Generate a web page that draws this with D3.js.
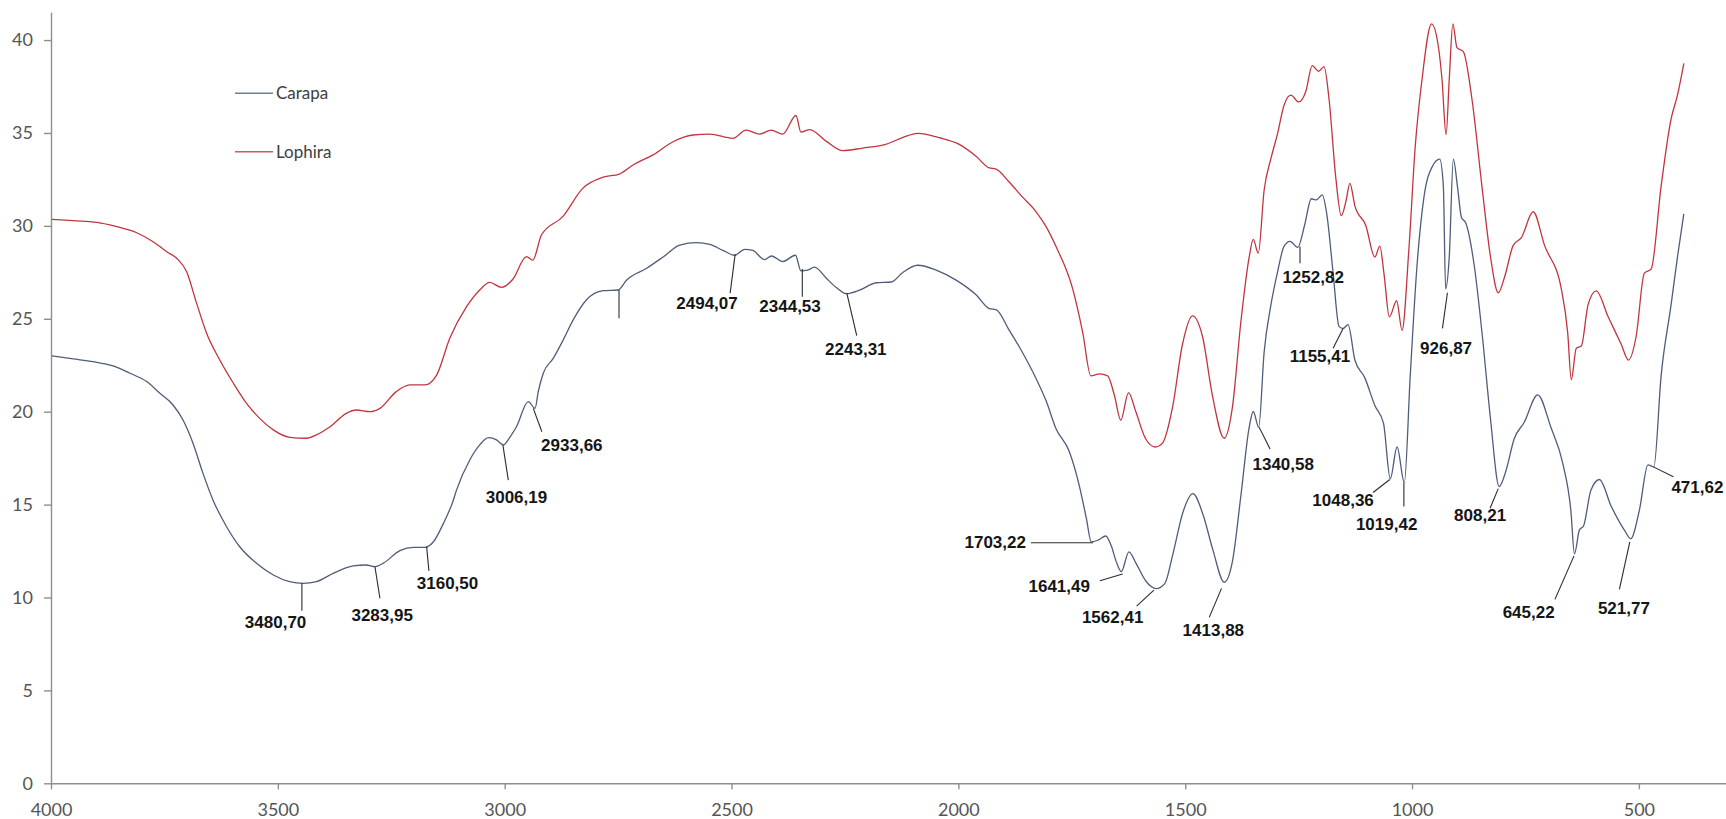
<!DOCTYPE html>
<html>
<head>
<meta charset="utf-8">
<script src="https://cdn.jsdelivr.net/npm/d3@7"></script>
<style>
  body { margin: 0; background: #fff; }
  svg { display: block; }
</style>
</head>
<body>
<svg id="chart"></svg>
<script>
// wavenumber (cm-1), value
const carapa = [
  [3998, 23.0], [3951, 22.84], [3907, 22.69], [3863, 22.46], [3826, 22.07], [3789, 21.62],
  [3760, 20.99], [3731, 20.36], [3709, 19.55], [3687, 18.3], [3665, 16.68], [3643, 15.25],
  [3613, 13.81], [3584, 12.73], [3547, 11.84], [3510, 11.21], [3474, 10.85], [3444, 10.76],
  [3415, 10.85], [3378, 11.3], [3334, 11.7], [3305, 11.75], [3286, 11.66], [3268, 11.84],
  [3231, 12.52], [3201, 12.7], [3176, 12.7], [3157, 13.0], [3135, 13.99], [3113, 15.25],
  [3106, 15.79], [3077, 17.4], [3055, 18.21], [3036, 18.6], [3018, 18.48], [3003, 18.21],
  [2988, 18.65], [2974, 19.19], [2948, 20.54], [2933, 20.18], [2926, 21.08], [2915, 22.07],
  [2893, 22.87], [2871, 23.86], [2849, 24.94], [2820, 26.01], [2783, 26.51], [2750, 26.55],
  [2731, 27.09], [2687, 27.72], [2650, 28.34], [2614, 28.97], [2577, 29.1], [2548, 29.0],
  [2519, 28.68], [2493, 28.42], [2471, 28.74], [2453, 28.68], [2427, 28.18], [2412, 28.38],
  [2387, 28.08], [2359, 28.42], [2347, 27.58], [2332, 27.62], [2317, 27.78], [2291, 27.18],
  [2269, 26.68], [2247, 26.35], [2218, 26.54], [2181, 26.94], [2148, 26.98], [2123, 27.48],
  [2090, 27.88], [2049, 27.62], [2005, 27.08], [1961, 26.29], [1932, 25.55], [1917, 25.49],
  [1888, 24.39], [1859, 23.2], [1829, 21.8], [1807, 20.61], [1785, 19.1], [1756, 17.88],
  [1733, 15.97], [1718, 14.27], [1707, 12.99], [1692, 13.09], [1675, 13.31], [1663, 12.78],
  [1652, 11.93], [1641, 11.39], [1624, 12.46], [1608, 11.82], [1586, 10.86], [1564, 10.48],
  [1545, 10.75], [1527, 12.35], [1505, 14.59], [1483, 15.59], [1461, 14.48], [1439, 12.56],
  [1414, 10.82], [1396, 11.93], [1377, 15.54], [1359, 19.16], [1350, 20.01], [1338, 19.16],
  [1326, 23.21], [1311, 25.76], [1297, 27.46], [1282, 28.91], [1269, 29.17], [1252, 28.84],
  [1237, 30.02], [1222, 31.46], [1211, 31.4], [1198, 31.67], [1188, 30.65], [1174, 27.46],
  [1161, 24.59], [1152, 24.48], [1141, 24.69], [1126, 22.78], [1104, 21.82], [1082, 20.33],
  [1063, 19.38], [1048, 16.39], [1033, 18.1], [1017, 16.18], [1004, 21.93], [989, 27.88],
  [974, 31.51], [955, 33.21], [939, 33.59], [931, 32.14], [926, 26.61], [918, 28.32],
  [909, 33.59], [900, 32.14], [891, 30.44], [882, 30.18], [863, 27.88], [845, 24.06],
  [827, 19.59], [808, 15.97], [793, 16.82], [775, 18.53], [753, 19.42], [723, 20.91],
  [694, 19.16], [668, 17.24], [650, 14.69], [642, 12.35], [631, 13.64], [622, 13.85],
  [606, 15.76], [587, 16.35], [561, 14.91], [532, 13.63], [518, 13.16], [499, 14.69],
  [480, 17.14], [467, 17.03], [451, 21.93], [429, 25.76], [415, 28.32], [401, 30.65]
]

const lophira = [
  [3998, 30.35], [3951, 30.28], [3899, 30.19], [3855, 29.96], [3811, 29.63], [3775, 29.15],
  [3745, 28.61], [3723, 28.26], [3701, 27.53], [3679, 25.83], [3657, 24.22], [3628, 22.78],
  [3598, 21.53], [3569, 20.45], [3540, 19.64], [3510, 19.02], [3474, 18.62], [3437, 18.57],
  [3415, 18.75], [3385, 19.19], [3349, 19.91], [3327, 20.09], [3297, 20.0], [3275, 20.18],
  [3239, 21.08], [3209, 21.44], [3176, 21.44], [3150, 21.97], [3121, 23.95], [3084, 25.65],
  [3055, 26.55], [3033, 26.96], [3007, 26.69], [2982, 27.13], [2952, 28.34], [2938, 28.16],
  [2919, 29.51], [2872, 30.5], [2828, 32.02], [2783, 32.62], [2747, 32.79], [2717, 33.28],
  [2673, 33.82], [2629, 34.53], [2585, 34.89], [2548, 34.94], [2497, 34.71], [2468, 35.15],
  [2438, 34.94], [2413, 35.15], [2387, 34.94], [2358, 35.94], [2347, 35.05], [2328, 35.18],
  [2291, 34.55], [2255, 34.05], [2211, 34.19], [2160, 34.39], [2123, 34.75], [2090, 34.98],
  [2042, 34.75], [1998, 34.39], [1961, 33.75], [1932, 33.12], [1917, 33.06], [1888, 32.36],
  [1859, 31.56], [1829, 30.77], [1807, 29.97], [1785, 28.9], [1748, 26.61], [1726, 24.27],
  [1708, 21.93], [1689, 22.03], [1671, 21.93], [1656, 20.87], [1642, 19.54], [1625, 21.03],
  [1609, 20.01], [1587, 18.53], [1566, 18.1], [1550, 18.31], [1528, 20.23], [1506, 23.63],
  [1484, 25.16], [1462, 24.06], [1440, 20.87], [1414, 18.57], [1396, 20.23], [1377, 24.91],
  [1359, 28.32], [1350, 29.27], [1339, 28.53], [1326, 31.93], [1311, 33.63], [1297, 34.91],
  [1282, 36.51], [1267, 37.04], [1250, 36.67], [1234, 37.25], [1220, 38.63], [1206, 38.32],
  [1194, 38.57], [1183, 36.83], [1168, 32.57], [1156, 30.55], [1146, 31.29], [1137, 32.29],
  [1126, 31.08], [1102, 30.02], [1082, 28.32], [1071, 28.91], [1062, 27.46], [1050, 25.1],
  [1034, 25.97], [1022, 24.38], [1007, 28.74], [993, 34.27], [978, 37.89], [957, 40.87],
  [941, 39.48], [934, 37.89], [925, 34.91], [918, 37.89], [910, 40.87], [901, 39.59],
  [887, 39.38], [868, 36.83], [846, 32.14], [827, 28.32], [810, 26.4], [796, 27.25],
  [777, 28.95], [759, 29.37], [733, 30.76], [708, 28.95], [671, 26.61], [657, 24.27],
  [649, 21.72], [638, 23.42], [627, 23.53], [612, 25.76], [594, 26.5], [568, 25.12],
  [539, 23.63], [523, 22.78], [506, 24.06], [488, 27.46], [473, 27.67], [451, 32.14],
  [429, 35.76], [415, 37.04], [401, 38.74]
]

const seriesNames = ['Carapa', 'Lophira']
const xTicks = [4000, 3500, 3000, 2500, 2000, 1500, 1000, 500]
const yTicks = [0, 5, 10, 15, 20, 25, 30, 35, 40]

// peak labels on the Carapa curve:
// text, [curve point], [leader end], [label point], text anchor
const peakLabels = [
  ['3480,70', [3447, 10.76], [3447, 9.29], [3505, 8.34], 'middle'],
  ['3283,95', [3286, 11.66], [3275, 9.96], [3270, 8.75], 'middle'],
  ['3160,50', [3172, 12.73], [3167, 11.43], [3126, 10.44], 'middle'],
  ['3006,19', [3004, 18.21], [2992, 16.32], [2974, 15.07], 'middle'],
  ['2933,66', [2937, 20.18], [2918, 18.92], [2852, 17.9], 'middle'],
  ['', [2748, 26.55], [2748, 25.03], null, 'middle'],
  ['2494,07', [2492, 28.48], [2503, 26.38], [2554, 25.53], 'middle'],
  ['2344,53', [2344, 27.68], [2344, 26.18], [2371, 25.39], 'middle'],
  ['2243,31', [2246, 26.39], [2224, 24.1], [2226, 23.06], 'middle'],
  ['1703,22', [1703, 12.95], [1840, 12.95], [1851, 12.66], 'end'],
  ['1641,49', [1638, 11.26], [1688, 10.9], [1710, 10.31], 'end'],
  ['1562,41', [1569, 10.4], [1607, 9.54], [1660, 8.64], 'middle'],
  ['1413,88', [1420, 10.49], [1447, 8.93], [1438, 7.93], 'middle'],
  ['1340,58', [1337, 19.16], [1313, 17.99], [1284, 16.88], 'middle'],
  ['1252,82', [1247, 28.89], [1247, 27.99], [1218, 26.94], 'middle'],
  ['1155,41', [1152, 24.48], [1174, 23.42], [1203, 22.67], 'middle'],
  ['1048,36', [1049, 16.35], [1086, 15.65], [1152, 14.95], 'middle'],
  ['1019,42', [1018, 16.18], [1018, 14.9], [1056, 13.63], 'middle'],
  ['926,87', [922, 26.4], [933, 24.48], [925, 23.1], 'middle'],
  ['808,21', [810, 15.86], [828, 14.8], [850, 14.1], 'middle'],
  ['645,22', [643, 12.24], [685, 9.9], [743, 8.9], 'middle'],
  ['521,77', [520, 12.99], [543, 10.44], [533, 9.1], 'middle'],
  ['471,62', [468, 17.03], [424, 16.5], [371, 15.65], 'middle']
]

const width = 1726
const height = 819
const colors = { Carapa: '#4f5d7a', Lophira: '#c3343f' }

const svg = d3.select('#chart')
  .attr('width', width)
  .attr('height', height)

svg.append('rect')
  .attr('width', width)
  .attr('height', height)
  .attr('fill', '#fff')

// x axis runs backwards, as usual for IR spectra
const x = d3.scaleLinear().domain([4000, 308]).range([51, 1726])
const y = d3.scaleLinear().domain([0, 41.5]).range([783.3, 12.2])

const xAxis = svg.append('g')
  .attr('transform', `translate(0,${y(0)})`)
  .call(d3.axisBottom(x).tickValues(xTicks).tickFormat(d3.format('d')).tickSize(6).tickSizeOuter(0))

xAxis.selectAll('text')
  .attr('y', 20)
  .attr('font-size', 18)

const yAxis = svg.append('g')
  .attr('transform', `translate(${x(4000)},0)`)
  .call(d3.axisLeft(y).tickValues(yTicks).tickSize(7).tickSizeOuter(0).tickPadding(11))

yAxis.selectAll('text')
  .attr('font-size', 18)

svg.selectAll('.domain, .tick line')
  .attr('stroke', '#8e8e8e')
  .attr('stroke-width', 1.4)

svg.selectAll('.tick text')
  .attr('font-family', 'Lato, "Open Sans", sans-serif')
  .attr('fill', '#555')

// spectra
const line = d3.line()
  .x(d => x(d[0]))
  .y(d => y(d[1]))
  .curve(d3.curveMonotoneX)

svg.append('path')
  .datum(lophira)
  .attr('d', line)
  .attr('fill', 'none')
  .attr('stroke', colors.Lophira)
  .attr('stroke-width', 1.3)

svg.append('path')
  .datum(carapa)
  .attr('d', line)
  .attr('fill', 'none')
  .attr('stroke', colors.Carapa)
  .attr('stroke-width', 1.3)

// leader lines and peak labels
svg.selectAll('.leader')
  .data(peakLabels)
  .enter()
  .append('line')
  .attr('class', 'leader')
  .attr('x1', d => x(d[1][0]))
  .attr('y1', d => y(d[1][1]))
  .attr('x2', d => x(d[2][0]))
  .attr('y2', d => y(d[2][1]))
  .attr('stroke', '#2b2b2b')
  .attr('stroke-width', 1.1)

svg.selectAll('.peak')
  .data(peakLabels.filter(d => d[3]))
  .enter()
  .append('text')
  .attr('class', 'peak')
  .attr('x', d => x(d[3][0]))
  .attr('y', d => y(d[3][1]))
  .attr('text-anchor', d => d[4])
  .attr('font-family', '"Liberation Sans", Arial, sans-serif')
  .attr('font-weight', 'bold')
  .attr('font-size', 17)
  .attr('fill', '#151515')
  .text(d => d[0])

// legend
const legend = svg.append('g')
  .selectAll('g')
  .data(seriesNames)
  .enter()
  .append('g')
  .attr('transform', (d, i) => `translate(235,${93.3 + i * 58.4})`)

legend.append('line')
  .attr('x1', 0)
  .attr('x2', 38)
  .attr('stroke', d => colors[d])
  .attr('stroke-width', 1.6)
  .attr('opacity', 0.8)

legend.append('text')
  .attr('x', 41)
  .attr('dy', '0.35em')
  .attr('font-family', 'Lato, "Open Sans", sans-serif')
  .attr('font-size', 17)
  .attr('fill', '#404040')
  .text(d => d)
</script>
</body>
</html>
